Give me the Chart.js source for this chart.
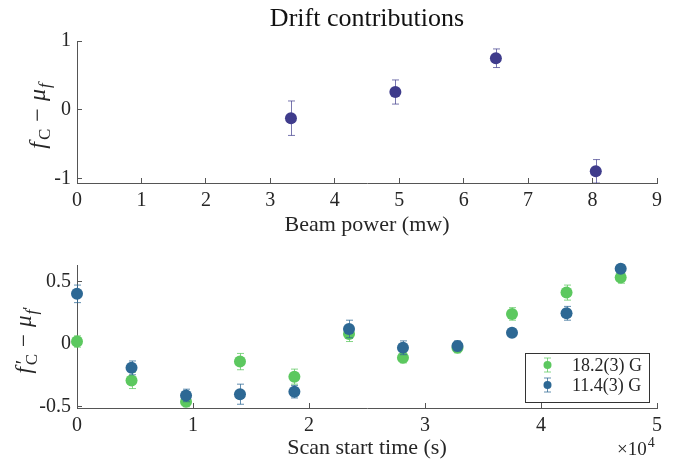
<!DOCTYPE html>
<html>
<head>
<meta charset="utf-8">
<script src="https://cdn.jsdelivr.net/npm/chart.js@4.4.1/dist/chart.umd.min.js"></script>
<style>
    html, body { margin: 0; padding: 0; background: #fff; }
    #wrap { position: relative; width: 676px; height: 464px; }
    canvas { position: absolute; left: 0; }
</style>
</head>
<body>
<div id="wrap">
    <canvas id="power-chart" width="676" height="240" style="top:0"></canvas>
    <canvas id="time-chart" width="676" height="224" style="top:240px"></canvas>
</div>
<script>
// --- top panel: drift vs beam power ---
const POWER_MW = [3.32, 4.94, 6.50, 8.05];
const POWER_DRIFT = [-0.12, 0.26, 0.75, -0.89];
const POWER_ERR = [0.25, 0.175, 0.135, 0.17];
const POWER_X_TICKS = [0, 1, 2, 3, 4, 5, 6, 7, 8, 9];
const POWER_Y_TICKS = [-1, 0, 1];

// --- bottom panel: drift vs scan start time ---
const SCAN_TIME_S = [0, 4700, 9400, 14050, 18740, 23450, 28100, 32800, 37500, 42200, 46870];
const DRIFT_18G = [0.02, -0.29, -0.46, -0.14, -0.26, 0.08, -0.11, -0.03, 0.24, 0.41, 0.53];
const ERR_18G = [0.045, 0.065, 0.04, 0.065, 0.06, 0.06, 0.04, 0.04, 0.05, 0.06, 0.045];
const DRIFT_11G = [0.40, -0.19, -0.41, -0.40, -0.38, 0.12, -0.03, -0.015, 0.09, 0.245, 0.60];
const ERR_11G = [0.07, 0.055, 0.05, 0.08, 0.05, 0.07, 0.055, 0.04, 0.03, 0.055, 0.03];
const TIME_X_TICKS = [0, 10000, 20000, 30000, 40000, 50000];
const TIME_Y_TICKS = [-0.5, 0, 0.5];
const SERIES_LABELS = ["18.2(3) G", "11.4(3) G"];

const SERIF = "'Liberation Serif', 'Times New Roman', serif";
const AXIS_COLOR = "#555";
const TEXT_COLOR = "#262626";

const C_PURPLE = "#3f3c8c";
const C_PURPLE_BAR = "rgba(63, 60, 140, 0.7)";
const C_GREEN = "#5cc85f";
const C_GREEN_BAR = "rgba(92, 200, 95, 0.75)";
const C_BLUE = "#2d6894";
const C_BLUE_BAR = "rgba(45, 104, 148, 0.75)";

function points(xs, ys) {
    return xs.map((x, i) => ({ x, y: ys[i] }));
}

// vertical error bars with caps, drawn just before each dataset's markers
const errorBars = {
    id: "errorBars",
    beforeDatasetDraw(chart, args) {
        const ds = chart.data.datasets[args.index];
        if (!ds.errors) return;
        const { ctx, chartArea: a } = chart;
        const xs = chart.scales.x, ys = chart.scales.y;
        const cap = 3.5;
        ctx.save();
        ctx.beginPath();
        ctx.rect(a.left - 20, a.top - 2, a.right - a.left + 40, a.bottom - a.top + 2);
        ctx.clip();
        ctx.strokeStyle = ds.errorColor;
        ctx.lineWidth = 1;
        ds.data.forEach((p, i) => {
            const px = Math.round(xs.getPixelForValue(p.x)) + 0.5;
            const hi = ys.getPixelForValue(p.y + ds.errors[i]);
            const lo = ys.getPixelForValue(p.y - ds.errors[i]);
            ctx.beginPath();
            ctx.moveTo(px, hi); ctx.lineTo(px, lo);
            ctx.moveTo(px - cap, hi); ctx.lineTo(px + cap, hi);
            ctx.moveTo(px - cap, lo); ctx.lineTo(px + cap, lo);
            ctx.stroke();
        });
        ctx.restore();
    }
};

// rotated label with sub/superscripts, e.g. f_C - mu_f
function drawMathLabel(ctx, cx, cy, parts, size) {
    const fontOf = p => `${p.it ? "italic " : ""}${Math.round(size * (p.scale || 1))}px ${SERIF}`;
    ctx.save();
    ctx.fillStyle = TEXT_COLOR;
    ctx.textBaseline = "alphabetic";
    ctx.textAlign = "left";
    let total = 0;
    parts.forEach(p => {
        ctx.font = fontOf(p);
        p.w = ctx.measureText(p.t).width;
        if (!p.stack) total += p.w + (p.gap || 0);
    });
    ctx.translate(cx, cy);
    ctx.rotate(-Math.PI / 2);
    let x = -total / 2;
    parts.forEach(p => {
        ctx.font = fontOf(p);
        const dy = size * (0.32 + (p.dy || 0));
        ctx.fillText(p.t, x + (p.dx || 0), dy);
        if (!p.stack) x += p.w + (p.gap || 0);
    });
    ctx.restore();
}

const powerDecor = {
    id: "powerDecor",
    afterDraw(chart) {
        const { ctx, chartArea: a } = chart;
        ctx.save();
        ctx.fillStyle = "#111";
        ctx.font = `26px ${SERIF}`;
        ctx.textAlign = "center";
        ctx.textBaseline = "middle";
        ctx.fillText("Drift contributions", (a.left + a.right) / 2, 19);
        ctx.restore();
        drawMathLabel(ctx, 37, 116, [
            { t: "f", it: true, gap: 2 },
            { t: "C", scale: 0.72, dy: 0.22, gap: 7 },
            { t: "\u2212", gap: 7 },
            { t: "\u03bc", it: true, gap: 1 },
            { t: "f", it: true, scale: 0.72, dy: 0.22 }
        ], 24);
    }
};

const timeDecor = {
    id: "timeDecor",
    afterDraw(chart) {
        const { ctx, chartArea: a } = chart;
        drawMathLabel(ctx, 24, 100, [
            { t: "f", it: true, gap: 2 },
            { t: "\u2032", scale: 0.9, dy: -0.05, stack: true, dx: 1 },
            { t: "C", scale: 0.72, dy: 0.24, gap: 7 },
            { t: "\u2212", gap: 7 },
            { t: "\u03bc", it: true, gap: 1 },
            { t: "f", it: true, scale: 0.72, dy: 0.24, gap: 0 },
            { t: "\u2032", scale: 0.65, dy: 0.05 }
        ], 23);

        // exponent note under the right end of the axis
        ctx.save();
        ctx.fillStyle = TEXT_COLOR;
        ctx.textBaseline = "alphabetic";
        ctx.textAlign = "left";
        ctx.font = `19px ${SERIF}`;
        const base = "\u00d710";
        const bw = ctx.measureText(base).width;
        const ex = 617;
        ctx.fillText(base, ex, 215);
        ctx.font = `14px ${SERIF}`;
        ctx.fillText("4", ex + bw + 1, 207);
        ctx.restore();

        // legend box in the lower right of the plot
        const w = 124, h = 49;
        const bx = a.right - 8 - w, by = a.bottom - 6 - h;
        ctx.save();
        ctx.fillStyle = "#fff";
        ctx.fillRect(bx, by, w, h);
        ctx.strokeStyle = "#333";
        ctx.lineWidth = 1;
        ctx.strokeRect(Math.round(bx) + 0.5, Math.round(by) + 0.5, w, h);
        const entries = [
            { label: SERIES_LABELS[0], color: C_GREEN, bar: C_GREEN_BAR },
            { label: SERIES_LABELS[1], color: C_BLUE, bar: C_BLUE_BAR }
        ];
        entries.forEach((e, i) => {
            const mx = bx + 22.5, my = by + 12 + i * 20;
            ctx.strokeStyle = e.bar;
            ctx.beginPath();
            ctx.moveTo(mx, my - 7); ctx.lineTo(mx, my + 7);
            ctx.moveTo(mx - 3.5, my - 7); ctx.lineTo(mx + 3.5, my - 7);
            ctx.moveTo(mx - 3.5, my + 7); ctx.lineTo(mx + 3.5, my + 7);
            ctx.stroke();
            ctx.fillStyle = e.color;
            ctx.beginPath();
            ctx.arc(mx, my, 4, 0, Math.PI * 2);
            ctx.fill();
            ctx.fillStyle = TEXT_COLOR;
            ctx.font = `18px ${SERIF}`;
            ctx.textBaseline = "middle";
            ctx.textAlign = "left";
            ctx.fillText(e.label, bx + 47, my + 1);
        });
        ctx.restore();
    }
};

function axisOpts(ticks, fmt, extra) {
    return Object.assign({
        type: "linear",
        afterBuildTicks: s => { s.ticks = ticks.map(v => ({ value: v })); },
        border: { display: true, color: AXIS_COLOR, width: 1 },
        grid: {
            display: true,
            drawOnChartArea: false,
            drawTicks: true,
            tickLength: -5,
            color: AXIS_COLOR
        },
        ticks: {
            color: TEXT_COLOR,
            padding: 11,
            font: { family: SERIF, size: 20 },
            callback: fmt
        }
    }, extra);
}

function baseOptions(xAxis, yAxis, pad) {
    return {
        responsive: false,
        animation: false,
        events: [],
        layout: { padding: pad },
        plugins: { legend: { display: false }, tooltip: { enabled: false }, title: { display: false } },
        scales: { x: xAxis, y: yAxis }
    };
}

// ---------------- top chart ----------------
new Chart(document.getElementById("power-chart"), {
    type: "scatter",
    data: {
        datasets: [{
            data: points(POWER_MW, POWER_DRIFT),
            errors: POWER_ERR,
            errorColor: C_PURPLE_BAR,
            backgroundColor: C_PURPLE,
            borderWidth: 0,
            pointRadius: 6,
            clip: false
        }]
    },
    options: baseOptions(
        axisOpts(POWER_X_TICKS, v => String(v), {
            position: "bottom",
            min: 0, max: 9,
            afterFit: s => { s.height = 57; },
            title: {
                display: true,
                text: "Beam power (mw)",
                color: TEXT_COLOR,
                font: { family: SERIF, size: 22 },
                padding: { top: 0, bottom: 2 }
            }
        }),
        axisOpts(POWER_Y_TICKS, v => (v < 0 ? "-" + Math.abs(v) : String(v)), {
            position: "left",
            min: -1.06, max: 1.0,
            afterFit: s => { s.width = 77; }
        }),
        { top: 41, right: 19, left: 0, bottom: 0 }
    ),
    plugins: [errorBars, powerDecor]
});

// ---------------- bottom chart ----------------
new Chart(document.getElementById("time-chart"), {
    type: "scatter",
    data: {
        datasets: [
            {
                label: SERIES_LABELS[0],
                data: points(SCAN_TIME_S, DRIFT_18G),
                errors: ERR_18G,
                errorColor: C_GREEN_BAR,
                backgroundColor: C_GREEN,
                borderWidth: 0,
                pointRadius: 6,
                clip: false,
                order: 1
            },
            {
                label: SERIES_LABELS[1],
                data: points(SCAN_TIME_S, DRIFT_11G),
                errors: ERR_11G,
                errorColor: C_BLUE_BAR,
                backgroundColor: C_BLUE,
                borderWidth: 0,
                pointRadius: 6,
                clip: false,
                order: 0
            }
        ]
    },
    options: baseOptions(
        axisOpts(TIME_X_TICKS, v => String(v / 10000), {
            position: "bottom",
            min: 0, max: 50000,
            afterFit: s => { s.height = 56; },
            title: {
                display: true,
                text: "Scan start time (s)",
                color: TEXT_COLOR,
                font: { family: SERIF, size: 22 },
                padding: { top: 0, bottom: 3 }
            }
        }),
        axisOpts(TIME_Y_TICKS, v => (v < 0 ? "-" + Math.abs(v) : String(v)), {
            position: "left",
            min: -0.51, max: 0.63,
            afterFit: s => { s.width = 77; }
        }),
        { top: 25, right: 19, left: 0, bottom: 0 }
    ),
    plugins: [errorBars, timeDecor]
});
</script>
</body>
</html>
